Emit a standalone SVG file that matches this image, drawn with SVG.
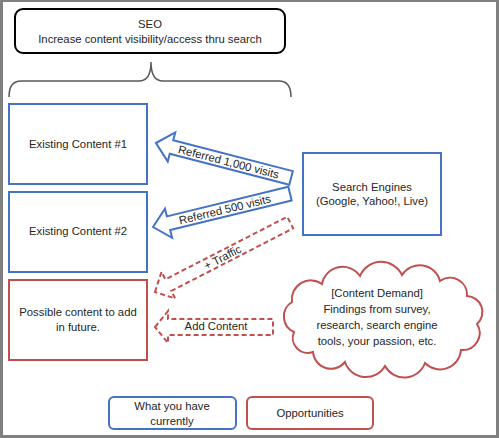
<svg xmlns="http://www.w3.org/2000/svg" width="499" height="438" viewBox="0 0 499 438">
<style>
text{font-family:"Liberation Sans",Arial,sans-serif;font-size:11.3px;fill:#262626;text-anchor:middle}
.blue{fill:#fff;stroke:#4472c4;stroke-width:2}
.red{fill:#fff;stroke:#c0504d;stroke-width:2}
.dash{fill:#fff;stroke:#c0504d;stroke-width:2;stroke-dasharray:5,3}
</style>
<rect x="0" y="0" width="499" height="438" fill="#fff"/>
<path d="M0,0H499V438H0Z M3,2V435H496V2Z" fill="#808080" fill-rule="evenodd"/>
<g id="seo">
<rect x="15" y="9" width="270" height="44" rx="8" fill="#fff" stroke="#000" stroke-width="2"/>
<text x="150" y="28">SEO</text>
<text x="150" y="43">Increase content visibility/access thru search</text>
</g>
<g id="brace">
<path d="M9,97 Q9,81 21,81 L139,81 Q151,81 151,62 Q151,81 163,81 L279,81 Q291,81 291,97" fill="none" stroke="#595959" stroke-width="1.5"/>
</g>
<g id="existing1">
<rect class="blue" x="9" y="104" width="138" height="80"/>
<text x="78" y="148">Existing Content #1</text>
</g>
<g id="existing2">
<rect class="blue" x="9" y="192" width="138" height="80"/>
<text x="78" y="235">Existing Content #2</text>
</g>
<g id="possible">
<rect class="red" x="9" y="280" width="138" height="80"/>
<text x="78" y="316">Possible content to add</text>
<text x="78" y="331">in future.</text>
</g>
<g id="search">
<rect class="blue" x="303" y="153" width="138" height="82"/>
<text x="372" y="191">Search Engines</text>
<text x="372" y="205">(Google, Yahoo!, Live)</text>
</g>
<g id="demand">
<path class="red" d="M294,332 A17,17 0 0 1 292,302 A19,19 0 0 1 322,284 A21,21 0 0 1 360,276 A23,23 0 0 1 402,275 A21,21 0 0 1 440,281 A17,17 0 0 1 467,296 A16,16 0 0 1 477,324 A17,17 0 0 1 461,350 A21,21 0 0 1 425,363 A22,22 0 0 1 385,366 A22,22 0 0 1 345,362 A18,18 0 0 1 313,352 A15,15 0 0 1 294,332 Z"/>
<text x="377" y="297">[Content Demand]</text>
<text x="377" y="313">Findings from survey,</text>
<text x="377" y="329">research, search engine</text>
<text x="377" y="345">tools, your passion, etc.</text>
</g>
<g id="connectors">
<g transform="translate(156,143) rotate(14.5)">
<path class="blue" d="M0,0 L16,-15 L16,-7 L139.5,-7 L139.5,7 L16,7 L16,15 Z"/>
<text x="75" y="4">Referred 1,000 visits</text>
</g>
<g transform="translate(153,227) rotate(-13.7)">
<path class="blue" d="M0,0 L16,-15 L16,-7 L141,-7 L141,7 L16,7 L16,15 Z"/>
<text x="74" y="4">Referred 500 visits</text>
</g>
<g transform="translate(155,292) rotate(-27.2)">
<path class="dash" d="M0,0 L15,-15 L15,-6.5 L152,-6.5 L152,6.5 L15,6.5 L15,15 Z"/>
<text x="76" y="4">+ Traffic</text>
</g>
<g>
<path class="dash" d="M155,327 L168,311 L168,319 L273,319 L273,335 L168,335 L168,343 Z"/>
<text x="216" y="330">Add Content</text>
</g>
</g>
<g id="legend-have">
<rect class="blue" x="109" y="397" width="127" height="32" rx="5"/>
<text x="172" y="409.5">What you have</text>
<text x="172" y="424.5">currently</text>
</g>
<g id="legend-opp">
<rect class="red" x="247" y="397" width="126" height="32" rx="5"/>
<text x="310" y="417">Opportunities</text>
</g>
</svg>
